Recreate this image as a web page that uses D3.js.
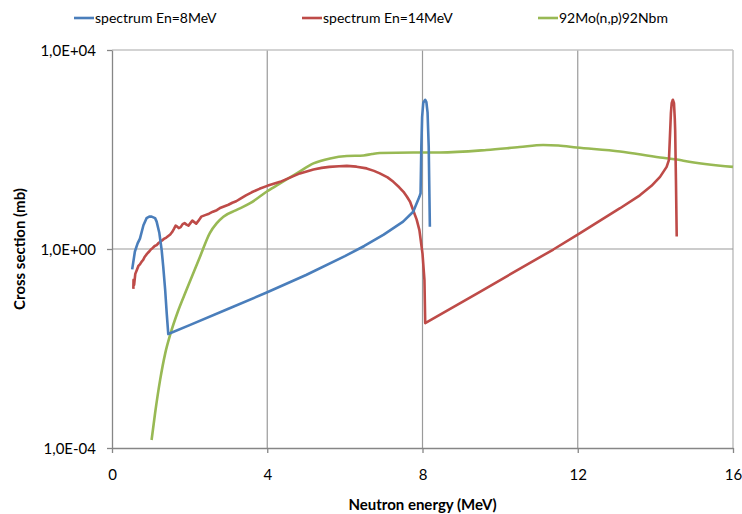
<!DOCTYPE html>
<html>
<head>
<meta charset="utf-8">
<script src="https://cdn.jsdelivr.net/npm/d3@7/dist/d3.min.js"></script>
<style>
  html, body { margin: 0; padding: 0; background: #fff; }
  svg { display: block; font-family: Lato, "Open Sans", sans-serif; }
</style>
</head>
<body>
<svg id="chart" width="742" height="514"></svg>
<script>
// Neutron spectra and the 92Mo(n,p)92Nbm excitation function (energy in MeV, cross section in mb)
const seriesNames = ["spectrum En=8MeV", "spectrum En=14MeV", "92Mo(n,p)92Nbm"];
const seriesColors = ["#4a7ebb", "#be4b48", "#98b954"];

const spectrum8 = [
  [0.52, 0.39], [0.59, 0.89], [0.66, 1.3], [0.72, 1.62], [0.81, 3.0], [0.89, 4.17],
  [0.96, 4.47], [1.02, 4.47], [1.11, 4.17], [1.15, 3.55], [1.22, 2.09], [1.28, 0.95],
  [1.32, 0.44], [1.37, 0.15], [1.41, 0.051], [1.45, 0.0195], [2.0, 0.0295], [3.0, 0.063],
  [4.0, 0.135], [5.0, 0.30], [6.0, 0.72], [6.5, 1.15], [7.0, 1.95], [7.5, 3.55],
  [7.76, 5.6], [7.92, 11.2], [7.95, 13.2], [7.97, 115], [7.99, 450], [8.02, 870],
  [8.07, 1000], [8.10, 900], [8.13, 560], [8.16, 115], [8.19, 2.8]
];

const spectrum14 = [
  [0.55, 0.158], [0.555, 0.24], [0.57, 0.19], [0.60, 0.316], [0.64, 0.38], [0.68, 0.457],
  [0.72, 0.49], [0.76, 0.55], [0.80, 0.60], [0.84, 0.69], [0.88, 0.76], [0.92, 0.83],
  [0.96, 0.89], [1.00, 0.98], [1.05, 1.05], [1.10, 1.15], [1.15, 1.2], [1.20, 1.32],
  [1.25, 1.41], [1.30, 1.51], [1.35, 1.62], [1.40, 1.70], [1.45, 1.82], [1.50, 1.95],
  [1.55, 2.19], [1.60, 2.57], [1.64, 2.95], [1.68, 2.82], [1.72, 2.63], [1.77, 2.75],
  [1.82, 3.16], [1.87, 3.31], [1.92, 3.09], [1.97, 2.95], [2.02, 3.31], [2.07, 3.72],
  [2.12, 3.47], [2.17, 3.24], [2.22, 3.63], [2.30, 4.47], [2.40, 4.79], [2.50, 5.13],
  [2.60, 5.62], [2.70, 6.03], [2.80, 6.76], [2.90, 7.24], [3.00, 7.76], [3.10, 8.51],
  [3.20, 9.12], [3.30, 10.2], [3.45, 12.0], [3.60, 13.8], [3.80, 16.2], [4.00, 18.6],
  [4.33, 22.4], [4.60, 27.5], [4.84, 33.1], [5.19, 39.8], [5.40, 42.7], [5.60, 44.7],
  [5.85, 46.2], [6.05, 46.8], [6.30, 45.2], [6.56, 41.7], [6.75, 37.2], [6.90, 33.1],
  [7.10, 27.5], [7.25, 22.4], [7.40, 17.4], [7.51, 14.1], [7.60, 11.2], [7.68, 8.9],
  [7.76, 6.0], [7.85, 3.9], [7.92, 2.4], [8.00, 0.81], [8.05, 0.24], [8.07, 0.0324],
  [9.48, 0.138], [11.37, 0.977], [12.06, 2.09], [13.09, 6.6], [13.6, 12.0], [13.9, 18.6],
  [14.12, 28.2], [14.29, 44.7], [14.35, 61.7], [14.40, 537], [14.42, 850], [14.45, 1000],
  [14.48, 850], [14.50, 420], [14.51, 245], [14.53, 24.5], [14.55, 1.78]
];

const moNp = [
  [1.02, 1.45e-4], [1.11, 5.0e-4], [1.24, 2.34e-3], [1.37, 7.9e-3], [1.50, 0.019],
  [1.70, 0.056], [1.92, 0.151], [2.27, 0.708], [2.52, 2.09], [2.70, 3.31], [2.87, 4.47],
  [3.2, 6.03], [3.56, 8.32], [4.0, 14.5], [4.33, 20.9], [4.76, 33.1], [5.19, 52.5],
  [5.62, 66.1], [6.05, 74.1], [6.48, 75.9], [6.7, 81.3], [6.9, 85.1], [7.76, 87.1],
  [8.45, 87.1], [9.65, 97.7], [10.5, 112], [11.11, 123], [11.5, 120], [11.97, 110],
  [13.09, 91.2], [14.12, 69.2], [14.55, 63.1], [14.76, 58.9], [16.0, 44.7]
];

const xTicks = [0, 4, 8, 12, 16];
const yTicks = [1e-4, 1, 1e4];
const yTickLabels = ["1,0E-04", "1,0E+00", "1,0E+04"];
const xTitle = "Neutron energy (MeV)";
const yTitle = "Cross section (mb)";

const svg = d3.select("#chart");
const plot = { left: 112, right: 733, top: 50, bottom: 448 };

const x = d3.scaleLinear().domain([0, 16]).range([plot.left, plot.right]);
const y = d3.scaleLog().domain([1e-4, 1e4]).range([plot.bottom, plot.top]);

// gridlines
const grid = svg.append("g");
grid.selectAll("line.v").data(xTicks.filter(d => d > 0)).join("line")
  .attr("x1", d => x(d)).attr("x2", d => x(d))
  .attr("y1", plot.top).attr("y2", plot.bottom)
  .attr("stroke", d => d === 16 ? "#c4c4c4" : "#9a9a9a")
  .attr("stroke-width", d => d === 16 ? 1.6 : 1.2);
grid.selectAll("line.h").data(yTicks.filter(d => d > 1e-4)).join("line")
  .attr("x1", plot.left).attr("x2", plot.right)
  .attr("y1", d => y(d)).attr("y2", d => y(d))
  .attr("stroke", d => d === 1e4 ? "#c4c4c4" : "#9a9a9a")
  .attr("stroke-width", d => d === 1e4 ? 1.6 : 1.2);

// axes
const xAxis = svg.append("g")
  .attr("transform", `translate(0,${plot.bottom})`)
  .call(d3.axisBottom(x).tickValues(xTicks).tickFormat(d3.format("d")).tickSizeInner(5).tickSizeOuter(0));
const yAxis = svg.append("g")
  .attr("transform", `translate(${plot.left},0)`)
  .call(d3.axisLeft(y).tickValues(yTicks).tickFormat((d, i) => yTickLabels[i]).tickSizeInner(5).tickSizeOuter(0));

[xAxis, yAxis].forEach(a => {
  a.select(".domain").attr("stroke", "#868686").attr("stroke-width", 1.3);
  a.selectAll(".tick line").attr("stroke", "#868686").attr("stroke-width", 1.3);
  a.selectAll(".tick text").attr("fill", "#000").style("font-size", "15px")
    .style("font-family", "Lato, 'Open Sans', sans-serif");
});
xAxis.selectAll(".tick text").attr("dy", "0").attr("y", 32);
yAxis.selectAll(".tick text").attr("x", -16).attr("dy", "0.35em");

// axis titles
svg.append("text")
  .attr("x", (plot.left + plot.right) / 2).attr("y", 510)
  .attr("text-anchor", "middle")
  .style("font-size", "15px").style("font-weight", "bold")
  .text(xTitle);
svg.append("text")
  .attr("transform", `translate(25,${(plot.top + plot.bottom) / 2}) rotate(-90)`)
  .attr("text-anchor", "middle")
  .style("font-size", "15px").style("font-weight", "bold")
  .text(yTitle);

// series lines: the spectra keep their sharp edges, the excitation function is smoothed
const straight = d3.line().x(d => x(d[0])).y(d => y(d[1])).curve(d3.curveLinear);
const smooth = d3.line().x(d => x(d[0])).y(d => y(d[1])).curve(d3.curveMonotoneX);

const drawOrder = [
  { data: moNp, color: seriesColors[2], gen: smooth },
  { data: spectrum14, color: seriesColors[1], gen: straight },
  { data: spectrum8, color: seriesColors[0], gen: straight }
];
svg.append("g").selectAll("path").data(drawOrder).join("path")
  .attr("d", d => d.gen(d.data))
  .attr("fill", "none")
  .attr("stroke", d => d.color)
  .attr("stroke-width", 2.6)
  .attr("stroke-linejoin", "round");

// legend
const legendX = [74, 302, 538];
const legend = svg.append("g").selectAll("g").data(seriesNames).join("g")
  .attr("transform", (d, i) => `translate(${legendX[i]},18)`);
legend.append("line")
  .attr("x1", 0).attr("x2", 20).attr("y1", 0).attr("y2", 0)
  .attr("stroke", (d, i) => seriesColors[i]).attr("stroke-width", 2.6);
legend.append("text")
  .attr("x", 21).attr("dy", "0.35em")
  .style("font-size", "14px")
  .text(d => d);
</script>
</body>
</html>
